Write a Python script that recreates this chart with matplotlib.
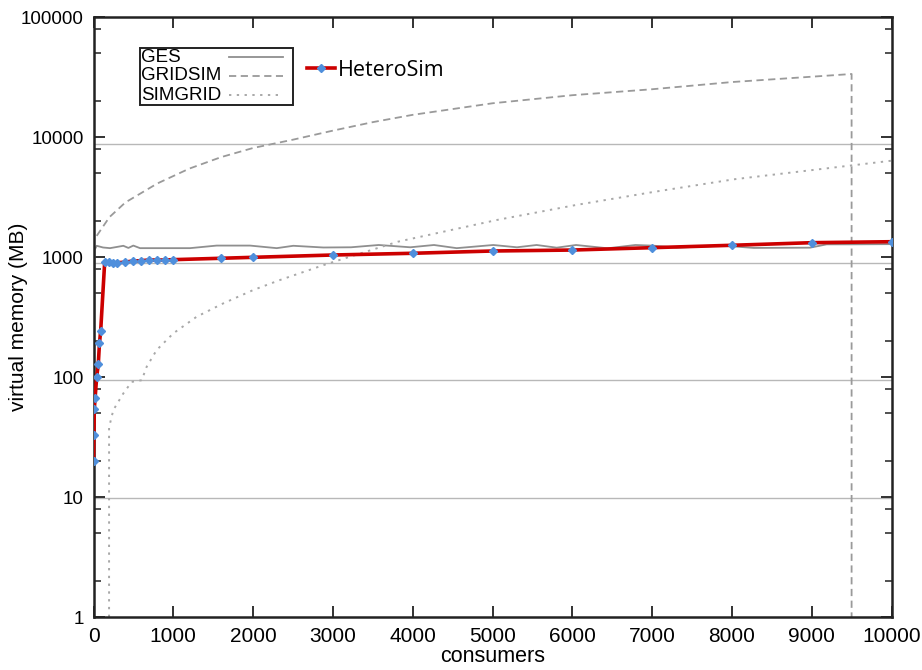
import matplotlib
matplotlib.use("Agg")
import matplotlib.pyplot as plt
from matplotlib.lines import Line2D
from matplotlib.patches import Rectangle
from matplotlib.ticker import FixedLocator, NullFormatter, FixedFormatter

# ---------------- data ----------------
hetero_x = [1, 5, 10, 20, 40, 60, 75, 90, 140, 190, 240, 290, 390, 490, 590, 690,
            790, 890, 990, 1600, 2000, 3000, 4000, 5000, 6000, 7000, 8000, 9000, 10000]
hetero_y = [20, 33, 54, 67, 100, 128, 192, 243, 903, 900, 895, 895, 905, 926, 931,
            944, 944, 944, 950, 976, 994, 1039, 1074, 1122, 1143, 1196, 1252, 1316, 1341]

ges_x = [0, 15, 40, 120, 207, 300, 374, 437, 499, 583, 1209, 1544, 1961, 2296, 2504,
         2880, 3227, 3574, 3970, 4267, 4551, 5009, 5306, 5553, 5804, 6047, 6444, 6790,
         7015, 7308, 7892, 8275, 8979, 9188, 9500, 9981]
ges_y = [10, 1150, 1240, 1200, 1185, 1215, 1240, 1190, 1245, 1185, 1185, 1245, 1245,
         1185, 1240, 1200, 1205, 1259, 1205, 1259, 1185, 1259, 1205, 1259, 1196, 1259,
         1182, 1259, 1243, 1196, 1243, 1190, 1196, 1275, 1275, 1280]

gridsim_x = [40, 200, 400, 800, 1200, 1600, 2000, 2500, 3000, 3500, 4000, 5000, 6000,
             7000, 8000, 9000, 9500, 9500]
gridsim_y = [1500, 2150, 2850, 4100, 5450, 6800, 8100, 9500, 11300, 13300, 15300,
             19100, 22300, 25000, 28700, 31800, 33500, 1]

simgrid_x = [195, 195, 248, 374, 478, 604, 667, 792, 1000, 1293, 1627, 2003, 2337,
             2925, 3816, 5054, 6046, 7036, 8025, 9015, 10000]
simgrid_y = [1, 38, 53, 73, 91, 94, 122, 168, 231, 318, 411, 531, 643, 875, 1342,
             2034, 2713, 3500, 4440, 5310, 6345]

grid_levels = [9.8, 94.4, 891, 8743]
x_ticks = [0, 1000, 2000, 3000, 4000, 5000, 6000, 7000, 8000, 9000, 10000]
x_ticklabels = [str(v) for v in x_ticks]
y_ticks = [1, 10, 100, 1000, 10000, 100000]
y_ticklabels = ["1", "10", "100", "1000", "10000", "100000"]
legend_labels = ["GES", "GRIDSIM", "SIMGRID"]

# ---------------- figure ----------------
W, H = 922, 670
fig = plt.figure(figsize=(W / 100, H / 100), dpi=100)
L, R, T, B = 93.5, 891.5, 17, 617
ax = fig.add_axes([L / W, 1 - B / H, (R - L) / W, (B - T) / H])

ax.set_yscale("log")
ax.set_xlim(0, 10000)
ax.set_ylim(1, 100000)

for g in grid_levels:
    ax.axhline(g, color="#b8b8b8", lw=1.0, zorder=1)

ges_style = dict(color="#8f8f8f", lw=1.3, ls="-")
grid_style = dict(color="#9a9a9a", lw=1.3, ls=(0, (4, 2.5)))
simg_style = dict(color="#a8a8a8", lw=1.4, ls=(0, (1.2, 2.8)))

ax.plot(ges_x, ges_y, zorder=2, **ges_style)
ax.plot(gridsim_x, gridsim_y, zorder=2, **grid_style)
ax.plot(simgrid_x, simgrid_y, zorder=2, **simg_style)
hetero_line, = ax.plot(hetero_x, hetero_y, color="#cc0000", lw=2.6, zorder=3,
                       marker="D", ms=3.6, mfc="#4f8fdc", mec="#4f8fdc")

narrow = ["Liberation Sans Narrow", "DejaVu Sans Condensed", "Liberation Sans"]

# ticks
ax.xaxis.set_major_locator(FixedLocator(x_ticks))
ax.xaxis.set_major_formatter(FixedFormatter(x_ticklabels))
ax.yaxis.set_major_locator(FixedLocator(y_ticks))
ax.yaxis.set_major_formatter(FixedFormatter(y_ticklabels))
minor_y = [m * 10 ** k for k in range(0, 5) for m in (2, 5, 7.9)]
ax.yaxis.set_minor_locator(FixedLocator(minor_y))
ax.yaxis.set_minor_formatter(NullFormatter())
ax.xaxis.set_minor_locator(FixedLocator([]))

ax.tick_params(which="major", direction="in", length=8, width=1.3,
               top=True, right=True, pad=7, color="#222222")
ax.tick_params(which="minor", direction="in", length=5, width=1.1,
               top=True, right=True, color="#222222")
for lab in ax.get_xticklabels():
    lab.set_fontfamily(narrow)
    lab.set_fontsize(15)
for lab in ax.get_yticklabels():
    lab.set_fontfamily(["Liberation Sans", "DejaVu Sans"])
    lab.set_fontsize(13.5)
for s in ax.spines.values():
    s.set_linewidth(1.8)
    s.set_color("#222222")

ax.set_xlabel("consumers", fontsize=15.5, family=narrow, labelpad=0)
ax.set_ylabel("virtual memory (MB)", fontsize=15, family=["Liberation Sans", "DejaVu Sans"])
ax.yaxis.set_label_coords((28 - L) / (R - L), 0.5)

# gnuplot-style key (text left, sample right)
def ax_x(px):
    return (px - L) / (R - L)

def ax_y(py):
    return (B - py) / (B - T)

ax.add_patch(Rectangle((ax_x(140), ax_y(105)), ax_x(293) - ax_x(140), ax_y(48) - ax_y(105),
                       transform=ax.transAxes, fill=False, ec="#222222", lw=1.4, zorder=5))
rows_py = [57, 76, 95]
for lab, py, st in zip(legend_labels, rows_py, [ges_style, grid_style, simg_style]):
    ax.text(ax_x(141), ax_y(py), lab, transform=ax.transAxes, ha="left", va="center",
            fontsize=13.5, family=["Liberation Sans", "DejaVu Sans"], zorder=6)
    ax.add_line(Line2D([ax_x(229), ax_x(283)], [ax_y(py), ax_y(py)], transform=ax.transAxes,
                       zorder=6, **st))

ax.legend([hetero_line], ["HeteroSim"], loc="center left",
          bbox_to_anchor=(307 / W, 1 - 70 / H), bbox_transform=fig.transFigure,
          frameon=False, borderpad=0, borderaxespad=0, handlelength=1.3, handletextpad=0.15,
          prop={"family": ["Open Sans", "DejaVu Sans"], "size": 15.5})

fig.savefig("out.png", dpi=100)
